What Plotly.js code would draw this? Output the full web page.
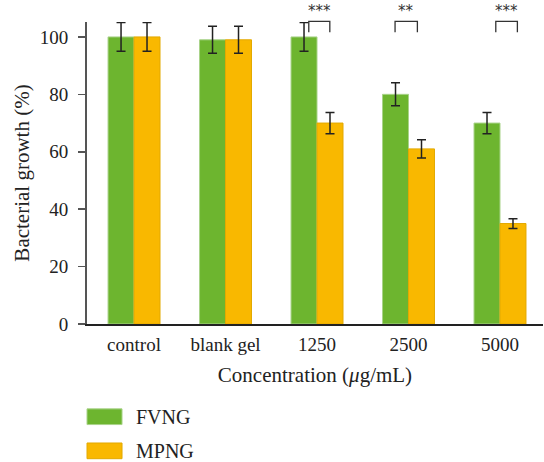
<!DOCTYPE html>
<html>
<head>
<meta charset="utf-8">
<script src="https://cdn.plot.ly/plotly-3.0.1.min.js"></script>
<style>html,body{margin:0;padding:0;background:#fff;}#chart{width:544px;height:462px;}</style>
</head>
<body>
<div id="chart"></div>
<script>
const categories = ['control', 'blank gel', '1250', '2500', '5000'];
const seriesNames = ['FVNG', 'MPNG'];
const fvng = [100, 99, 100, 80, 70];
const fvngErr = [5, 4.7, 5, 4, 3.7];
const mpng = [100, 99, 70, 61, 35];
const mpngErr = [5, 4.7, 3.7, 3.2, 1.7];
const sigCategories = ['1250', '2500', '5000'];
const sigLabels = ['***', '**', '***'];
const yTicks = [0, 20, 40, 60, 80, 100];

const colors = ['#6db52f', '#f9b800'];
const borders = ['#a9d38a', '#e3a900'];
const font = 'Liberation Serif, Times New Roman, serif';

function barTrace(name, y, err, i) {
  return {
    type: 'bar', name: name, x: categories, y: y,
    marker: {color: colors[i], line: {color: borders[i], width: 1}},
    error_y: {type: 'data', array: err, visible: true, color: '#222', thickness: 1.5, width: 4.5},
    showlegend: false
  };
}

const data = [barTrace(seriesNames[0], fvng, fvngErr, 0), barTrace(seriesNames[1], mpng, mpngErr, 1)];

const bracketOffsets = [[-0.09, 0.14], [-0.147, 0.097], [-0.046, 0.19]];
const shapes = [];
const annotations = [];
sigCategories.forEach((c, k) => {
  const idx = categories.indexOf(c);
  const x0 = idx + bracketOffsets[k][0], x1 = idx + bracketOffsets[k][1];
  shapes.push({type: 'path', xref: 'x', yref: 'paper',
    path: `M ${x0},0.966 L ${x0},1.002 L ${x1},1.002 L ${x1},0.966`,
    line: {color: '#333', width: 1.3}});
  annotations.push({xref: 'x', yref: 'paper', x: (x0 + x1) / 2, y: 1.036, text: sigLabels[k],
    showarrow: false, font: {family: 'DejaVu Sans, sans-serif', size: 15, color: '#333'}, yanchor: 'middle'});
});

// legend
seriesNames.forEach((n, i) => {
  const yc = i === 0 ? -0.307 : -0.42;
  shapes.push({type: 'rect', xref: 'paper', yref: 'paper', x0: 0, x1: 0.0768, y0: yc - 0.026, y1: yc + 0.026,
    fillcolor: colors[i], line: {color: borders[i], width: 1}});
  annotations.push({xref: 'paper', yref: 'paper', x: 0.103, y: yc, text: n, showarrow: false,
    xanchor: 'left', yanchor: 'middle', font: {family: font, size: 20, color: '#222'}});
});

const layout = {
  width: 544, height: 462,
  margin: {l: 87, r: 1, t: 22, b: 138},
  paper_bgcolor: '#fff', plot_bgcolor: '#fff',
  barmode: 'group', bargap: 0.432, bargroupgap: 0,
  font: {family: font, size: 19, color: '#222'},
  xaxis: {
    type: 'category',
    range: [-0.514, 4.47], showline: true, linecolor: '#222', linewidth: 1.5,
    ticks: '', showgrid: false, zeroline: false,
    tickfont: {family: font, size: 19, color: '#222'}, ticklabelstandoff: 3,
    title: {text: 'Concentration (<i>μ</i>g/mL)', font: {family: font, size: 21, color: '#222'}, standoff: 13}
  },
  yaxis: {
    range: [0, 105.2], showline: true, linecolor: '#555', linewidth: 2,
    ticks: 'outside', ticklen: 7, tickwidth: 1.5, tickcolor: '#555',
    tickvals: yTicks, showgrid: false, zeroline: false,
    tickfont: {family: font, size: 19, color: '#222'}, ticklabelstandoff: 6,
    title: {text: 'Bacterial growth (%)', font: {family: font, size: 21, color: '#222'}, standoff: 4}
  },
  shapes: shapes,
  annotations: annotations
};

Plotly.newPlot('chart', data, layout, {displayModeBar: false, staticPlot: true});
</script>
</body>
</html>
